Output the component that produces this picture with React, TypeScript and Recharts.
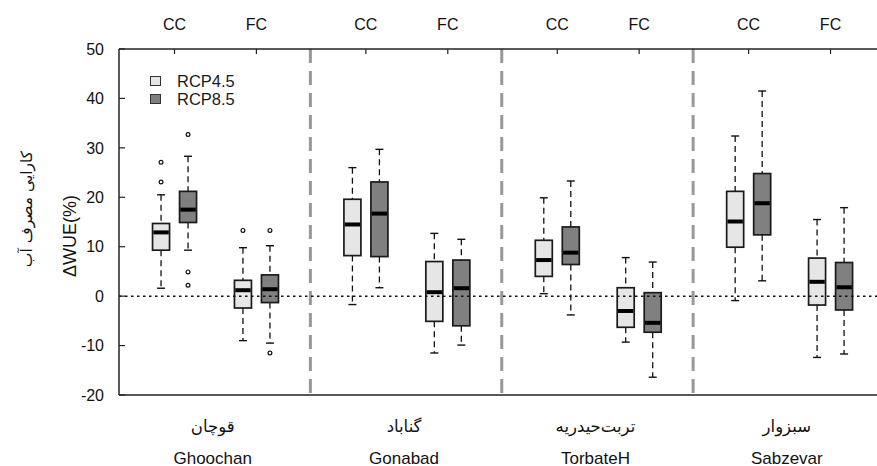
import React from "react";
import {
  ComposedChart,
  Bar,
  XAxis,
  YAxis,
  ReferenceLine,
  Legend,
  Customized,
} from "recharts";

// ---- data ----
const stations = ["Ghoochan", "Gonabad", "TorbateH", "Sabzevar"];
const stationsFa = ["قوچان", "گناباد", "تربت\u200Cحیدریه", "سبزوار"];
const conditions = ["CC", "FC"];
const conditionOffsets = [0.29, 0.718];
const yTicks = [-20, -10, 0, 10, 20, 30, 40, 50];

// order: Ghoochan CC, Ghoochan FC, Gonabad CC, Gonabad FC, TorbateH CC, TorbateH FC, Sabzevar CC, Sabzevar FC
const rcp45Low = [1.6, -9.0, -1.7, -11.5, 0.5, -9.3, -0.9, -12.4];
const rcp45Q1 = [9.3, -2.4, 8.2, -5.1, 4.0, -6.3, 9.9, -1.8];
const rcp45Median = [12.9, 1.2, 14.5, 0.8, 7.3, -3.0, 15.1, 2.9];
const rcp45Q3 = [14.7, 3.2, 19.6, 7.0, 11.3, 1.7, 21.2, 7.7];
const rcp45High = [20.5, 9.8, 26.0, 12.7, 19.9, 7.8, 32.4, 15.5];
const rcp45Outliers = [[23.1, 27.1], [13.3], [], [], [], [], [], []];

const rcp85Low = [9.3, -9.5, 1.7, -9.9, -3.8, -16.4, 3.1, -11.7];
const rcp85Q1 = [14.9, -1.3, 8.0, -6.0, 6.4, -7.3, 12.4, -2.8];
const rcp85Median = [17.5, 1.4, 16.7, 1.6, 8.8, -5.4, 18.8, 1.8];
const rcp85Q3 = [21.2, 4.3, 23.1, 7.3, 14.0, 0.7, 24.8, 6.8];
const rcp85High = [28.3, 10.2, 29.7, 11.5, 23.3, 6.9, 41.5, 17.9];
const rcp85Outliers = [[2.2, 4.9, 32.7], [13.3, -11.5], [], [], [], [], [], []];

const LIGHT = "#e6e6e6";
const DARK = "#808080";
const FONT = "'Liberation Sans', Arial, Helvetica, sans-serif";
const FA_FONT = "'DejaVu Sans', 'Liberation Serif', serif";

type Stats = { lo: number; q1: number; med: number; q3: number; hi: number; out: number[] };

const rows = stations.flatMap((_, s) =>
  conditions.map((_c, c) => {
    const i = s * 2 + c;
    const a: Stats = { lo: rcp45Low[i], q1: rcp45Q1[i], med: rcp45Median[i], q3: rcp45Q3[i], hi: rcp45High[i], out: rcp45Outliers[i] };
    const b: Stats = { lo: rcp85Low[i], q1: rcp85Q1[i], med: rcp85Median[i], q3: rcp85Q3[i], hi: rcp85High[i], out: rcp85Outliers[i] };
    return { x: s + conditionOffsets[c], a, b };
  })
);

const topTicks = rows.map((r) => r.x);
const bottomTicks = stations.map((_, s) => s + 0.5);

const makeBoxShape = (key: "a" | "b", fill: string) => (props: any) => {
  const { x, y, width, height, payload } = props;
  const s: Stats = payload[key];
  const top = Math.min(y, y + height);
  const h = Math.abs(height);
  const k = h / (s.q3 - s.q1);
  const py = (v: number) => top + (s.q3 - v) * k;
  const cx = x + width / 2;
  const cap = 4;
  return (
    <g>
      <line x1={cx} x2={cx} y1={py(s.hi)} y2={top} stroke="#111" strokeWidth={1.3} strokeDasharray="6 4" />
      <line x1={cx} x2={cx} y1={top + h} y2={py(s.lo)} stroke="#111" strokeWidth={1.3} strokeDasharray="6 4" />
      <line x1={cx - cap} x2={cx + cap} y1={py(s.hi)} y2={py(s.hi)} stroke="#111" strokeWidth={1.4} />
      <line x1={cx - cap} x2={cx + cap} y1={py(s.lo)} y2={py(s.lo)} stroke="#111" strokeWidth={1.4} />
      <rect x={x} y={top} width={width} height={h} fill={fill} stroke="#1a1a1a" strokeWidth={1.7} />
      <line x1={x + 0.8} x2={x + width - 0.8} y1={py(s.med)} y2={py(s.med)} stroke="#000" strokeWidth={4} />
      {s.out.map((o, j) => (
        <circle key={j} cx={cx} cy={py(o)} r={1.9} fill="#fff" stroke="#111" strokeWidth={1.2} />
      ))}
    </g>
  );
};

const BottomTick = (props: any) => {
  const { x, payload } = props;
  const idx = Math.floor(payload.value);
  return (
    <g>
      <text x={x - 2} y={426} textAnchor="middle" dominantBaseline="central" fontSize={16.5} fontFamily={FA_FONT} fill="#111">
        {stationsFa[idx]}
      </text>
      <text x={x - 2} y={458} textAnchor="middle" dominantBaseline="central" fontSize={17} fontFamily={FONT} fill="#111">
        {stations[idx]}
      </text>
    </g>
  );
};

const LegendContent = (props: any) => {
  const payload = props.payload || [];
  return (
    <div style={{ fontFamily: FONT }}>
      {payload.map((p: any, i: number) => (
        <div key={i} style={{ display: "flex", alignItems: "center", height: 18 }}>
          <span
            style={{
              display: "inline-block",
              width: 9,
              height: 8,
              background: p.color,
              border: "1.5px solid #333",
              marginRight: 16,
            }}
          />
          <span style={{ fontSize: 16.5, color: "#1a1a1a" }}>{p.value}</span>
        </div>
      ))}
    </div>
  );
};

const YLabels = () => (
  <g>
    <text transform="translate(70,236) rotate(-90)" textAnchor="middle" dominantBaseline="central" fontSize={18} fontFamily={FONT} fill="#111">
      ΔWUE(%)
    </text>
    <text transform="translate(27,209) rotate(-90)" textAnchor="middle" dominantBaseline="central" fontSize={15.5} fontFamily={FA_FONT} fill="#111">
      کارایی مصرف آب
    </text>
  </g>
);

export default function App() {
  return (
    <div style={{ position: "absolute", left: 0, top: 0, width: 877, height: 466, overflow: "hidden", background: "#fff" }}>
      <ComposedChart
        width={900}
        height={466}
        data={rows}
        margin={{ top: 0, right: 15.5, bottom: 0, left: 0 }}
        barGap={10}
      >
        <XAxis
          xAxisId="top"
          orientation="top"
          type="number"
          dataKey="x"
          domain={[0, 4]}
          allowDataOverflow
          ticks={topTicks}
          interval={0}
          height={49}
          tickFormatter={(v: number, i: number) => conditions[i % 2]}
          tickSize={-5}
          tickMargin={24}
          axisLine={{ stroke: "#222", strokeWidth: 1.5 }}
          tickLine={{ stroke: "#222", strokeWidth: 1.2 }}
          tick={{ fill: "#111", fontSize: 16, fontFamily: FONT }}
        />
        <XAxis
          xAxisId="bottom"
          orientation="bottom"
          type="number"
          dataKey="x"
          domain={[0, 4]}
          allowDataOverflow
          ticks={bottomTicks}
          interval={0}
          height={71}
          tickLine={false}
          axisLine={{ stroke: "#222", strokeWidth: 1.5 }}
          tick={<BottomTick />}
        />
        <YAxis
          type="number"
          domain={[-20, 50]}
          ticks={yTicks}
          interval={0}
          width={119}
          tickSize={-6}
          tickMargin={21}
          axisLine={{ stroke: "#222", strokeWidth: 1.5 }}
          tickLine={{ stroke: "#222", strokeWidth: 1.2 }}
          tick={{ fill: "#111", fontSize: 16, fontFamily: FONT }}
        />
        {[1, 2, 3].map((v) => (
          <ReferenceLine key={v} xAxisId="top" x={v} stroke="#999" strokeWidth={3} strokeDasharray="14 8" />
        ))}
        <Bar
          xAxisId="top"
          name="RCP4.5"
          dataKey={(d: any) => [d.a.q1, d.a.q3]}
          fill={LIGHT}
          barSize={17}
          isAnimationActive={false}
          shape={makeBoxShape("a", LIGHT)}
        />
        <Bar
          xAxisId="top"
          name="RCP8.5"
          dataKey={(d: any) => [d.b.q1, d.b.q3]}
          fill={DARK}
          barSize={17}
          isAnimationActive={false}
          shape={makeBoxShape("b", DARK)}
        />
        <ReferenceLine xAxisId="top" y={0} stroke="#111" strokeWidth={1.5} strokeDasharray="2.5 3.5" />
        <Legend
          layout="vertical"
          align="center"
          verticalAlign="middle"
          wrapperStyle={{ left: 150, top: 72, width: 130, height: 40 }}
          content={<LegendContent />}
        />
        <Customized component={YLabels} />
      </ComposedChart>
    </div>
  );
}
